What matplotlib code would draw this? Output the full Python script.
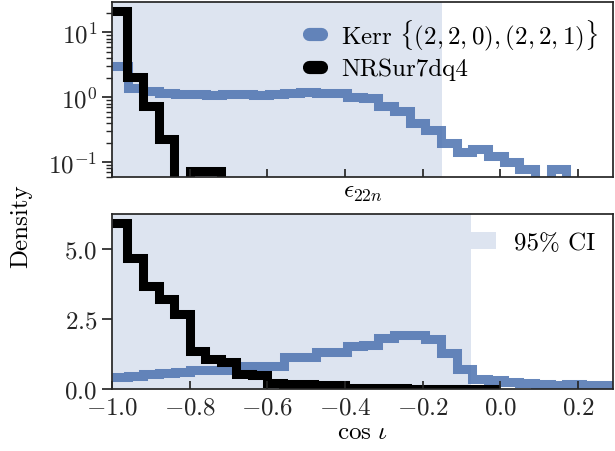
import numpy as np
import matplotlib.pyplot as plt
from matplotlib.lines import Line2D
from matplotlib.patches import Patch

plt.rcParams.update({
    'font.family': 'serif',
    'font.serif': ['cmr10'],
    'mathtext.fontset': 'cm',
    'axes.formatter.use_mathtext': True,
    'font.size': 18,
    'axes.edgecolor': '.15',
    'axes.linewidth': 1.25,
    'xtick.color': '.15',
    'ytick.color': '.15',
})

# histogram bin edges
edges_kerr = np.linspace(-1.0, 0.29, 33)
edges_nr = np.linspace(-1.0, 0.0, 26)

# epsilon_22n densities
eps_kerr = [3.06, 1.40, 1.26, 1.15, 1.12, 1.12, 1.10, 1.12, 1.11, 1.10, 1.12,
            1.18, 1.19, 1.18, 1.15, 1.00, 0.97, 0.74, 0.62, 0.40, 0.31, 0.20,
            0.142, 0.16, 0.126, 0.10, 0.079, 0, 0.079, 0, 0, 0]
eps_nr = [21.5, 2.03, 0.74, 0.23, 0, 0.072, 0.072] + [0] * 18

# cos(iota) densities
cos_kerr = [0.42, 0.48, 0.53, 0.58, 0.60, 0.67, 0.68, 0.69, 0.83, 0.83, 0.83,
            1.13, 1.13, 1.31, 1.31, 1.55, 1.58, 1.82, 1.92, 1.92, 1.80, 1.28,
            0.71, 0.36, 0.34, 0.24, 0.20, 0.17, 0.15, 0.17, 0.15, 0.13]
cos_nr = [5.95, 4.70, 3.69, 3.21, 2.68, 1.37, 1.07, 0.95, 0.55, 0.52, 0.20,
          0.17, 0.17, 0.14, 0.14, 0.04, 0.03, 0.05, 0.05, 0.02, 0.02, 0.01,
          0.01, 0.01, 0.0]

# 95% credible intervals
ci_eps = (-1.0, -0.151)
ci_cos = (-1.0, -0.076)

blue = '#4C72B0'
lw = 6.5

fig = plt.figure(figsize=(6.15, 4.52), dpi=100)
ax1 = fig.add_axes([0.182, 0.606, 0.815, 0.387])
ax2 = fig.add_axes([0.182, 0.137, 0.815, 0.387])

# top panel
ax1.axvspan(*ci_eps, color=blue, alpha=0.19, lw=0)
ax1.stairs(eps_kerr, edges_kerr, baseline=None, color=blue, alpha=0.85, lw=lw)
ax1.stairs(eps_nr, edges_nr, baseline=None, color='k', lw=lw)
ax1.set_yscale('log')
ax1.set_ylim(0.059, 29)
ax1.set_xlim(-1.0, 0.29)
ax1.set_xticks([-1.0, -0.8, -0.6, -0.4, -0.2, 0.0, 0.2])
ax1.tick_params(axis='x', direction='in', length=6, width=1.25, labelbottom=False)
ax1.tick_params(axis='y', which='major', length=7, width=1.25)
ax1.tick_params(axis='y', which='minor', length=4, width=1)
ax1.set_xlabel(r'$\epsilon_{22n}$', labelpad=3)

handles = [Line2D([], [], color=blue, alpha=0.85, lw=9.5, solid_capstyle='round'),
           Line2D([], [], color='k', lw=9.5, solid_capstyle='round')]
ax1.legend(handles, [r'Kerr $\{(2,2,0),(2,2,1)\}$', 'NRSur7dq4'],
           loc='upper right', frameon=False, handlelength=0.5,
           handletextpad=0.8, borderaxespad=0.2, labelspacing=0.25)

# bottom panel
ax2.axvspan(*ci_cos, color=blue, alpha=0.19, lw=0)
ax2.stairs(cos_kerr, edges_kerr, baseline=None, color=blue, alpha=0.85, lw=lw)
ax2.stairs(cos_nr, edges_nr, baseline=None, color='k', lw=lw)
ax2.set_xlim(-1.0, 0.29)
ax2.set_ylim(0, 6.25)
ax2.set_xticks([-1.0, -0.8, -0.6, -0.4, -0.2, 0.0, 0.2])
ax2.set_yticks([0.0, 2.5, 5.0])
ax2.tick_params(axis='x', direction='in', length=6, width=1.25, pad=5)
ax2.tick_params(axis='y', length=7, width=1.25)
ax2.set_xlabel(r'$\cos\,\iota$', labelpad=2)
ax2.legend([Patch(color=blue, alpha=0.19, lw=0)], ['95% CI'],
           loc='upper right', frameon=False, handlelength=1.0,
           handleheight=0.7, handletextpad=0.75, borderaxespad=0.3)

fig.text(0.035, 0.5, 'Density', rotation=90, va='center', ha='center')

fig.savefig('out.png', dpi=100)
